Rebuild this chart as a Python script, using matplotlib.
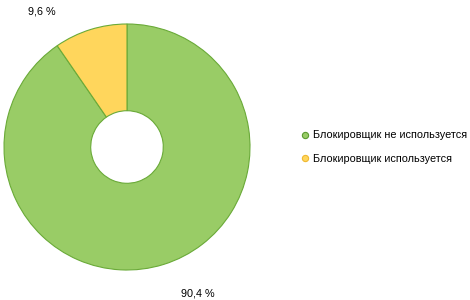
import matplotlib
matplotlib.use('Agg')
import matplotlib.pyplot as plt
from matplotlib.lines import Line2D

plt.rcParams['font.family'] = ['Liberation Sans', 'DejaVu Sans']

labels = ['Блокировщик не используется', 'Блокировщик используется']
values = [90.4, 9.6]
value_text = ['90,4 %', '9,6 %']
colors = ['#99cc66', '#ffd65c']

fig = plt.figure(figsize=(4.7, 3.0), dpi=100)
ax = fig.add_axes([4/470, 30/300, 246/470, 246/300])

wedges, _ = ax.pie(values, colors=colors, startangle=90, counterclock=False,
                   radius=1.0, wedgeprops=dict(width=0.705, linewidth=0.8,
                                               edgecolor='#6aaa38'))
ax.set_xlim(-1, 1)
ax.set_ylim(-1, 1)
ax.set_aspect('equal')

# value labels
ax.text(0.577, -1.19, value_text[0], fontsize=7.8, ha='center', va='center')
ax.text(-0.69, 1.105, value_text[1], fontsize=7.8, ha='center', va='center')

handles = [Line2D([], [], marker='o', linestyle='none', markersize=4.5,
                  markerfacecolor=c, markeredgecolor=e, markeredgewidth=0.8)
           for c, e in zip(colors, ['#5a9a30', '#f0b830'])]
fig.legend(handles, labels, loc='center left', bbox_to_anchor=(290/470, 1 - 147/300),
           frameon=False, fontsize=7.8, handletextpad=0.25, labelspacing=1.2,
           handlelength=1.0)

fig.savefig('out.png', dpi=100)
